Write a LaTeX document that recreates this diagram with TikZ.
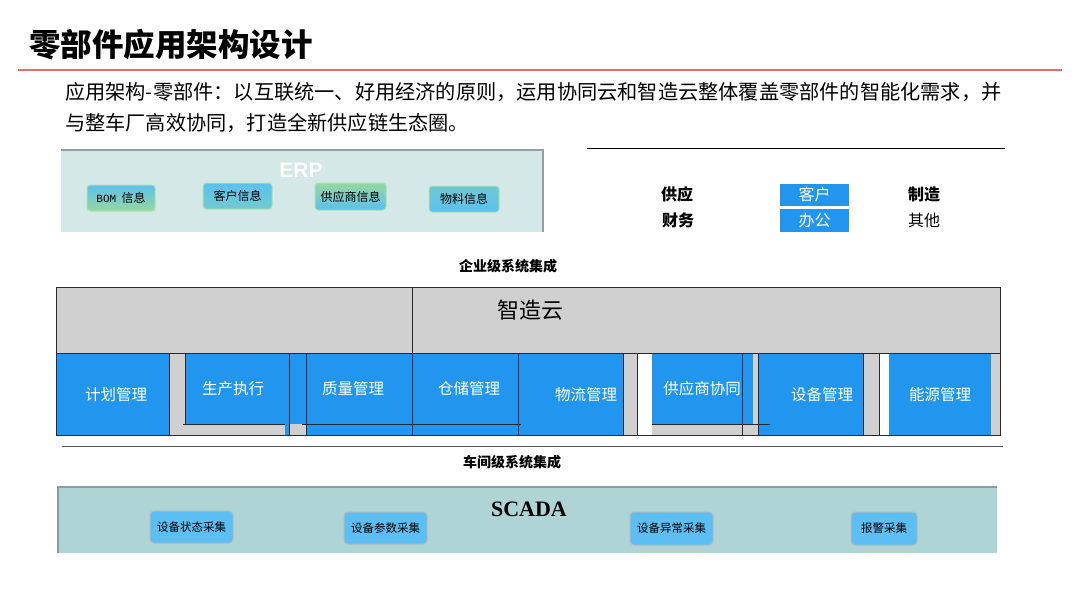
\documentclass[tikz,border=0pt]{standalone}
\usepackage{fontspec}
\setmainfont{Noto Sans CJK SC}
\newfontfamily\lserif{Liberation Serif}
\newfontfamily\lmono{Liberation Mono}
\newfontfamily\lsans{Liberation Sans}
\newcommand\myfs[1]{\fontsize{#1}{#1}\selectfont}
\definecolor{cellblue}{RGB}{34,150,238}
\definecolor{cellgray}{RGB}{208,208,208}
\definecolor{erpfill}{RGB}{213,232,232}
\definecolor{erpedge}{RGB}{150,155,165}
\definecolor{scadafill}{RGB}{174,212,214}
\definecolor{scadaedge}{RGB}{140,155,170}
\definecolor{subblue}{RGB}{92,190,242}
\definecolor{erpblue}{RGB}{92,192,238}
\definecolor{erpgreen}{RGB}{150,216,160}
\definecolor{redline}{RGB}{226,110,110}
\definecolor{darkline}{RGB}{40,40,50}
\begin{document}
\begin{tikzpicture}[x=1pt,y=-1pt,
  erpbox/.style={rounded corners=3pt, draw=erpgreen!80!white, line width=1pt,
     minimum height=26pt, inner sep=0pt, font=\myfs{12}},
  scadabox/.style={rounded corners=4pt, fill=subblue, draw=scadaedge!70!white, line width=1pt,
     minimum width=83pt, minimum height=32pt, inner sep=0pt, font=\myfs{11.5}},
  celltext/.style={text=white, font=\myfs{15.5}, inner sep=0pt},
  darkl/.style={draw=darkline, line width=0.8pt},
  topword/.style={font=\bfseries\myfs{16}, inner sep=0pt},
  bluetag/.style={fill=cellblue, text=white, font=\myfs{16}, minimum width=69pt, minimum height=22pt, inner sep=0pt},
  levellabel/.style={font=\bfseries\myfs{14}, inner sep=0pt}
]
\fill[white] (0,0) rectangle (1080,608);
\useasboundingbox (0,0) rectangle (1080,608);

% title
\node[anchor=west, font=\bfseries\myfs{31.5}, inner sep=0pt] (title) at (29,45) {零部件应用架构设计};
\coordinate (rl1) at (18,70);
\coordinate (rl2) at (1062,70);
\draw[redline, line width=1.3pt] (rl1) -- (rl2);

\node[anchor=west, font=\myfs{20.2}, inner sep=0pt] (p1) at (65,92) {应用架构-零部件：以互联统一、好用经济的原则，运用协同云和智造云整体覆盖零部件的智能化需求，并};
\node[anchor=west, font=\myfs{20.2}, inner sep=0pt] (p2) at (65,123) {与整车厂高效协同，打造全新供应链生态圈。};

% ERP
\fill[erpfill] (61,150) rectangle (543,232);
\draw[erpedge, line width=1.6pt] (61,150) -- (543,150) -- (543,232);
\node[font=\lsans\bfseries\myfs{21}, text=white, inner sep=0pt] (erp) at (301,170) {ERP};
\node[erpbox, minimum width=68pt, top color=erpblue, bottom color=erpgreen] (bom) at (121,198) {{\lmono\myfs{11}BOM}\ \ 信息};
\node[erpbox, minimum width=69pt, top color=erpblue, bottom color=erpblue!60!erpgreen] (kehu) at (237.5,196) {客户信息};
\node[erpbox, minimum width=71pt, minimum height=27pt, top color=erpgreen, bottom color=erpblue] (gys) at (350.5,196.5) {供应商信息};
\node[erpbox, minimum width=70pt, top color=erpblue!65!erpgreen, bottom color=erpblue] (wuliao) at (464,199) {物料信息};

% top right
\coordinate (tr1) at (587,148);
\coordinate (tr2) at (1005,148);
\draw[line width=1pt] (tr1) -- (tr2);
\node[topword] (gongying) at (677,194) {供应};
\node[bluetag] (kehu2) at (814.5,194.5) {客户};
\node[topword] (zhizao) at (924,194) {制造};
\node[topword] (caiwu) at (678,220) {财务};
\node[bluetag, minimum height=23pt] (bangong) at (814.5,220.5) {办公};
\node[font=\myfs{16}, inner sep=0pt] (qita) at (924,220) {其他};

\node[levellabel] (qiye) at (508,266) {企业级系统集成};

% middle frame
\fill[cellgray] (56,287) rectangle (1000,435);
\fill[cellblue] (56,353) rectangle (169,435);
\fill[cellblue] (185,353) rectangle (306,424);
\fill[cellblue] (285,424) rectangle (290,435);
\fill[cellblue] (306,353) rectangle (623,435);
\fill[white] (637,353) rectangle (652,435);
\fill[cellblue] (652,353) rectangle (753,424);
\fill[cellblue] (758,353) rectangle (863,435);
\fill[white] (879,353) rectangle (889,435);
\fill[cellblue] (889,353) rectangle (991,435);
\draw[darkl] (56,287) rectangle (1000,435);
\draw[darkl] (56,353) -- (1000,353);
\draw[darkl] (412,287) -- (412,435);
\foreach \xx in {169,289,306,518,623,637,742,758,863,879}
  \draw[darkl] (\xx,353) -- (\xx,435);
\draw[darkline, line width=0.5pt] (185,353) -- (185,424);
\draw[darkl] (183,424) -- (285,424);
\draw[darkl] (302,424) -- (521,424);
\draw[darkl] (652,424) -- (770,424);

\node[font=\myfs{22}, inner sep=0pt] (zzy) at (530,310) {智造云};
\node[celltext] (jihua) at (116,395) {计划管理};
\node[celltext] (shengchan) at (233,389) {生产执行};
\node[celltext] (zhiliang) at (353,389) {质量管理};
\node[celltext] (cangchu) at (469,389) {仓储管理};
\node[celltext] (wuliu) at (586,395) {物流管理};
\node[celltext] (gysxt) at (702,389) {供应商协同};
\node[celltext] (shebei) at (822,395) {设备管理};
\node[celltext] (nengyuan) at (940,395) {能源管理};

% workshop level
\coordinate (wl1) at (62,446);
\coordinate (wl2) at (1003,446);
\draw[darkline!80!white, line width=1pt] (wl1) -- (wl2);
\node[levellabel] (chejian) at (512,462) {车间级系统集成};

% SCADA
\fill[scadafill] (58,487) rectangle (997,553);
\draw[scadaedge, line width=1.6pt] (58,553) -- (58,487) -- (997,487);
\node[font=\lserif\bfseries\myfs{22}, inner sep=0pt] (scada) at (529,509) {SCADA};
\node[scadabox] (zt) at (191.5,527) {设备状态采集};
\node[scadabox] (cs) at (385.5,528) {设备参数采集};
\node[scadabox, minimum height=33pt] (yc) at (671.5,528.5) {设备异常采集};
\node[scadabox, minimum width=66pt, minimum height=33pt] (bj) at (884,528.5) {报警采集};
\end{tikzpicture}
\end{document}
